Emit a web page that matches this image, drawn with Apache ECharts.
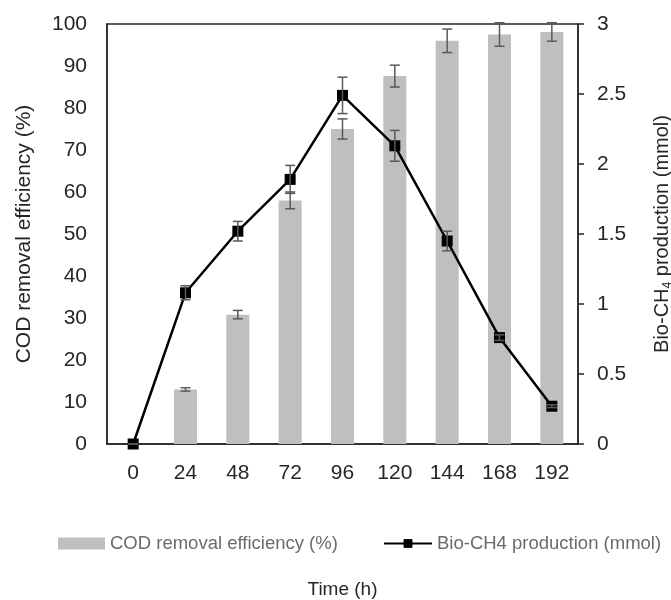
<!DOCTYPE html>
<html>
<head>
<meta charset="utf-8">
<script src="https://cdn.jsdelivr.net/npm/echarts@6/dist/echarts.min.js"></script>
<style>
  html, body { margin: 0; padding: 0; background: #fff; }
  #chart { width: 671px; height: 600px; }
</style>
</head>
<body>
<div id="chart"></div>
<script>
// data
var hours = ["0", "24", "48", "72", "96", "120", "144", "168", "192"];
var codRemoval = [0, 13.0, 30.8, 58.0, 75.0, 87.6, 96.0, 97.5, 98.1];
var codErr = [0, 0.4, 1.0, 2.0, 2.4, 2.6, 2.8, 2.8, 2.2];
var ch4Prod = [0, 1.08, 1.52, 1.89, 2.49, 2.13, 1.45, 0.76, 0.27];
var ch4Err = [0, 0.05, 0.07, 0.10, 0.13, 0.11, 0.07, 0.02, 0.01];
var leftTicks = [0, 100, 10];
var rightTicks = [0, 3, 0.5];

function errData(vals, errs) {
  return vals.map(function (v, i) { return [i, v - errs[i], v + errs[i]]; });
}

function renderErr(params, api) {
  var x = api.value(0);
  var lo = api.coord([x, api.value(1)]);
  var hi = api.coord([x, api.value(2)]);
  var w = 5;
  var st = { stroke: "#595959", lineWidth: 1.5 };
  return {
    type: "group",
    children: [
      { type: "line", shape: { x1: lo[0], y1: lo[1], x2: hi[0], y2: hi[1] }, style: st },
      { type: "line", shape: { x1: lo[0] - w, y1: lo[1], x2: lo[0] + w, y2: lo[1] }, style: st },
      { type: "line", shape: { x1: hi[0] - w, y1: hi[1], x2: hi[0] + w, y2: hi[1] }, style: st }
    ]
  };
}

var myChart = echarts.init(document.getElementById("chart"));
var axisFont = { fontFamily: "Liberation Sans", fontSize: 21, color: "#262626" };
var legendFont = { fontFamily: "Liberation Sans", fontSize: 18.5, color: "#6b6b6b" };

myChart.setOption({
  animation: false,
  textStyle: { fontFamily: "Liberation Sans" },
  grid: {
    left: 107, right: 93, top: 24, bottom: 156,
    outerBoundsMode: "none",
    containLabel: false,
    show: true, borderColor: "#262626", borderWidth: 1.5
  },
  legend: [
    {
      data: [{ name: "COD removal efficiency (%)", icon: "rect" }],
      left: 53, top: 529,
      itemWidth: 47, itemHeight: 12, itemGap: 4,
      textStyle: legendFont
    },
    {
      data: ["Bio-CH4 production (mmol)"],
      left: 378, top: 529,
      itemWidth: 48, itemHeight: 11, itemGap: 4,
      textStyle: legendFont
    }
  ],
  xAxis: {
    type: "category",
    data: hours,
    name: "Time (h)",
    nameLocation: "middle",
    nameGap: 136,
    nameTextStyle: { fontFamily: "Liberation Sans", fontSize: 19, color: "#262626" },
    axisLine: { lineStyle: { color: "#262626", width: 1.5 } },
    axisTick: { show: false },
    axisLabel: Object.assign({ margin: 19 }, axisFont)
  },
  yAxis: [
    {
      type: "value",
      min: leftTicks[0], max: leftTicks[1], interval: leftTicks[2],
      name: "COD removal efficiency (%)",
      nameLocation: "middle",
      nameRotate: 90,
      nameGap: 72,
      nameTextStyle: { fontFamily: "Liberation Sans", fontSize: 21, color: "#262626" },
      axisLine: { show: true, lineStyle: { color: "#262626", width: 1.5 } },
      axisTick: { show: false },
      splitLine: { show: false },
      axisLabel: Object.assign({ margin: 20 }, axisFont)
    },
    {
      type: "value",
      position: "right",
      min: rightTicks[0], max: rightTicks[1], interval: rightTicks[2],
      name: "{a|Bio-CH}{sub|4}{a| production (mmol)}",
      nameLocation: "middle",
      nameRotate: 90,
      nameGap: 72,
      nameTextStyle: {
        rich: {
          a: { fontFamily: "Liberation Sans", fontSize: 20, color: "#262626", lineHeight: 24 },
          sub: { fontFamily: "Liberation Sans", fontSize: 12, color: "#262626", lineHeight: 24, verticalAlign: "bottom", padding: [8, 0, 0, 0] }
        }
      },
      axisLine: { show: true, lineStyle: { color: "#262626", width: 1.5 } },
      axisTick: { show: true, inside: false, length: 6, lineStyle: { color: "#262626", width: 1.5 } },
      splitLine: { show: false },
      axisLabel: Object.assign({ margin: 19 }, axisFont)
    }
  ],
  series: [
    {
      name: "COD removal efficiency (%)",
      type: "bar",
      data: codRemoval,
      barWidth: 23,
      itemStyle: { color: "#bfbfbf" },
      z: 2
    },
    {
      name: "codErr",
      type: "custom",
      yAxisIndex: 0,
      data: errData(codRemoval, codErr),
      renderItem: renderErr,
      z: 3
    },
    {
      name: "Bio-CH4 production (mmol)",
      type: "line",
      yAxisIndex: 1,
      data: ch4Prod,
      symbol: "rect",
      symbolSize: 11,
      lineStyle: { color: "#000", width: 2.5 },
      itemStyle: { color: "#000" },
      z: 4
    },
    {
      name: "ch4Err",
      type: "custom",
      yAxisIndex: 1,
      data: errData(ch4Prod, ch4Err),
      renderItem: renderErr,
      z: 5
    }
  ]
});
</script>
</body>
</html>
